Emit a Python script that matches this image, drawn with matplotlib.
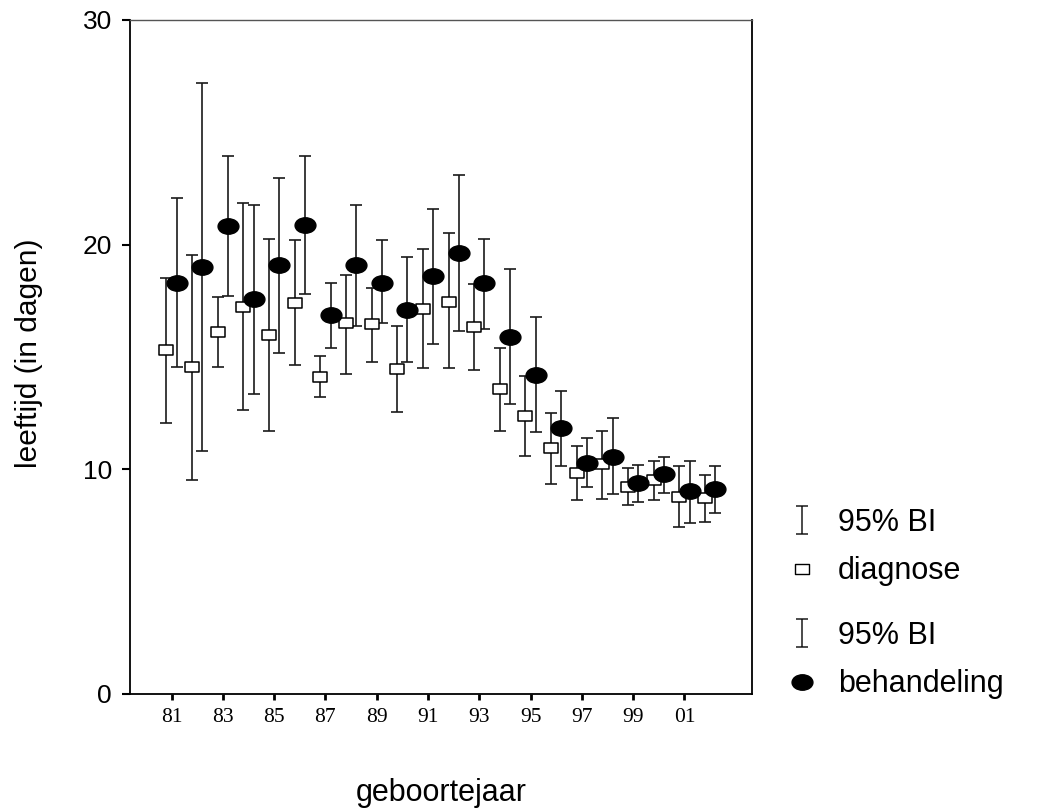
import numpy as np
import matplotlib
matplotlib.use("Agg")
import matplotlib.pyplot as plt
from matplotlib.path import Path
from matplotlib.transforms import Affine2D
from matplotlib.lines import Line2D

# geboortejaar 1981 - 2002
years = ['81', '82', '83', '84', '85', '86', '87', '88', '89', '90', '91',
         '92', '93', '94', '95', '96', '97', '98', '99', '00', '01', '02']
tick_labels = ['81', '83', '85', '87', '89', '91', '93', '95', '97', '99', '01']

# leeftijd bij diagnose (gemiddelde + 95% BI)
diag_mean = [15.3, 14.54, 16.11, 17.24, 15.99, 17.39, 14.12, 16.5, 16.45, 14.45, 17.13,
             17.46, 16.33, 13.56, 12.37, 10.95, 9.82, 10.22, 9.2, 9.52, 8.77, 8.71]
diag_lo = [12.07, 9.52, 14.54, 12.64, 11.7, 14.63, 13.23, 14.25, 14.78, 12.55, 14.49,
           14.49, 14.41, 11.7, 10.6, 9.35, 8.63, 8.69, 8.4, 8.63, 7.45, 7.64]
diag_hi = [18.5, 19.55, 17.65, 21.84, 20.26, 20.19, 15.06, 18.65, 18.05, 16.38, 19.79,
           20.5, 18.23, 15.4, 14.15, 12.51, 11.04, 11.72, 10.06, 10.38, 10.15, 9.76]

# leeftijd bij behandeling
beh_mean = [18.28, 18.99, 20.83, 17.57, 19.08, 20.87, 16.87, 19.09, 18.3, 17.09, 18.6,
            19.61, 18.28, 15.9, 14.21, 11.85, 10.29, 10.56, 9.4, 9.78, 9.03, 9.11]
beh_lo = [14.54, 10.8, 17.71, 13.35, 15.19, 17.8, 15.4, 16.38, 16.52, 14.78, 15.58,
          16.15, 16.23, 12.89, 11.65, 10.15, 9.21, 8.89, 8.54, 8.93, 7.6, 8.06]
beh_hi = [22.06, 27.2, 23.96, 21.76, 22.95, 23.96, 18.3, 21.76, 20.19, 19.46, 21.58,
          23.1, 20.25, 18.91, 16.76, 13.5, 11.41, 12.27, 10.19, 10.55, 10.38, 10.15]

plt.rcParams['font.family'] = ['Liberation Sans', 'DejaVu Sans']

# markers: flattened ellipse, flat rectangle, I-beam for the legend
ellipse = Path.unit_circle().transformed(Affine2D().scale(1.0, 0.74))
rect = Path([(-1, -0.67), (1, -0.67), (1, 0.67), (-1, 0.67), (-1, -0.67)],
            [Path.MOVETO, Path.LINETO, Path.LINETO, Path.LINETO, Path.CLOSEPOLY])
ibeam = Path([(0, -1), (0, 1), (-0.45, -1), (0.45, -1), (-0.45, 1), (0.45, 1)],
             [Path.MOVETO, Path.LINETO, Path.MOVETO, Path.LINETO, Path.MOVETO, Path.LINETO])

fig = plt.figure(figsize=(10.44, 8.09), dpi=100)
ax = fig.add_axes([0.1245, 0.1422, 0.5955, 0.8331])

x = np.arange(len(years))
off = 0.2
dm = np.array(diag_mean)
bm = np.array(beh_mean)

ax.errorbar(x - off, dm, yerr=[dm - np.array(diag_lo), np.array(diag_hi) - dm],
            fmt='none', ecolor='#1a1a1a', elinewidth=1.2, capsize=4, capthick=1.2, zorder=2)
ax.errorbar(x + off, bm, yerr=[bm - np.array(beh_lo), np.array(beh_hi) - bm],
            fmt='none', ecolor='#1a1a1a', elinewidth=1.2, capsize=4, capthick=1.2, zorder=2)
ax.plot(x - off, dm, linestyle='none', marker=rect, markersize=10.5,
        markerfacecolor='white', markeredgecolor='black', markeredgewidth=1.1, zorder=3)
ax.plot(x + off, bm, linestyle='none', marker=ellipse, markersize=15,
        markerfacecolor='black', markeredgecolor='black', zorder=4)

ax.set_xlim(-1.62, 22.62)
ax.set_ylim(0, 30)
ax.set_yticks([0, 10, 20, 30])
ax.set_xticks(x[::2])
ax.set_xticklabels(tick_labels, family='Liberation Serif', fontsize=15.5)
ax.tick_params(axis='y', direction='out', length=6, width=1.5, labelsize=19, pad=7)
ax.tick_params(axis='x', direction='out', length=4, width=2, pad=6)

for s in ['left', 'bottom', 'right']:
    ax.spines[s].set_linewidth(1.3)
    ax.spines[s].set_color('black')
ax.spines['top'].set_linewidth(1.0)
ax.spines['top'].set_color('#555555')

ax.set_ylabel('leeftijd (in dagen)', fontsize=21.5)
ax.yaxis.set_label_coords(-0.14, 0.506)
ax.set_xlabel('geboortejaar', fontsize=22)
ax.xaxis.set_label_coords(0.5, -0.125)

# legenda
bi = Line2D([], [], linestyle='none', marker=ibeam, markersize=20,
            markeredgecolor='#1a1a1a', markeredgewidth=1.1)
sq = Line2D([], [], linestyle='none', marker=rect, markersize=10,
            markerfacecolor='white', markeredgecolor='black', markeredgewidth=1.0)
dot = Line2D([], [], linestyle='none', marker=ellipse, markersize=15,
             markerfacecolor='black', markeredgecolor='black')

kw = dict(frameon=False, fontsize=22, handlelength=1.0, handletextpad=0.68,
          labelspacing=0.6, borderpad=0, borderaxespad=0, loc='upper left',
          bbox_transform=fig.transFigure)
leg1 = fig.legend([bi, sq], ['95% BI', 'diagnose'], bbox_to_anchor=(0.7536, 0.372), **kw)
leg2 = fig.legend([bi, dot], ['95% BI', 'behandeling'], bbox_to_anchor=(0.7536, 0.2325), **kw)

fig.savefig('out.png', dpi=100)
